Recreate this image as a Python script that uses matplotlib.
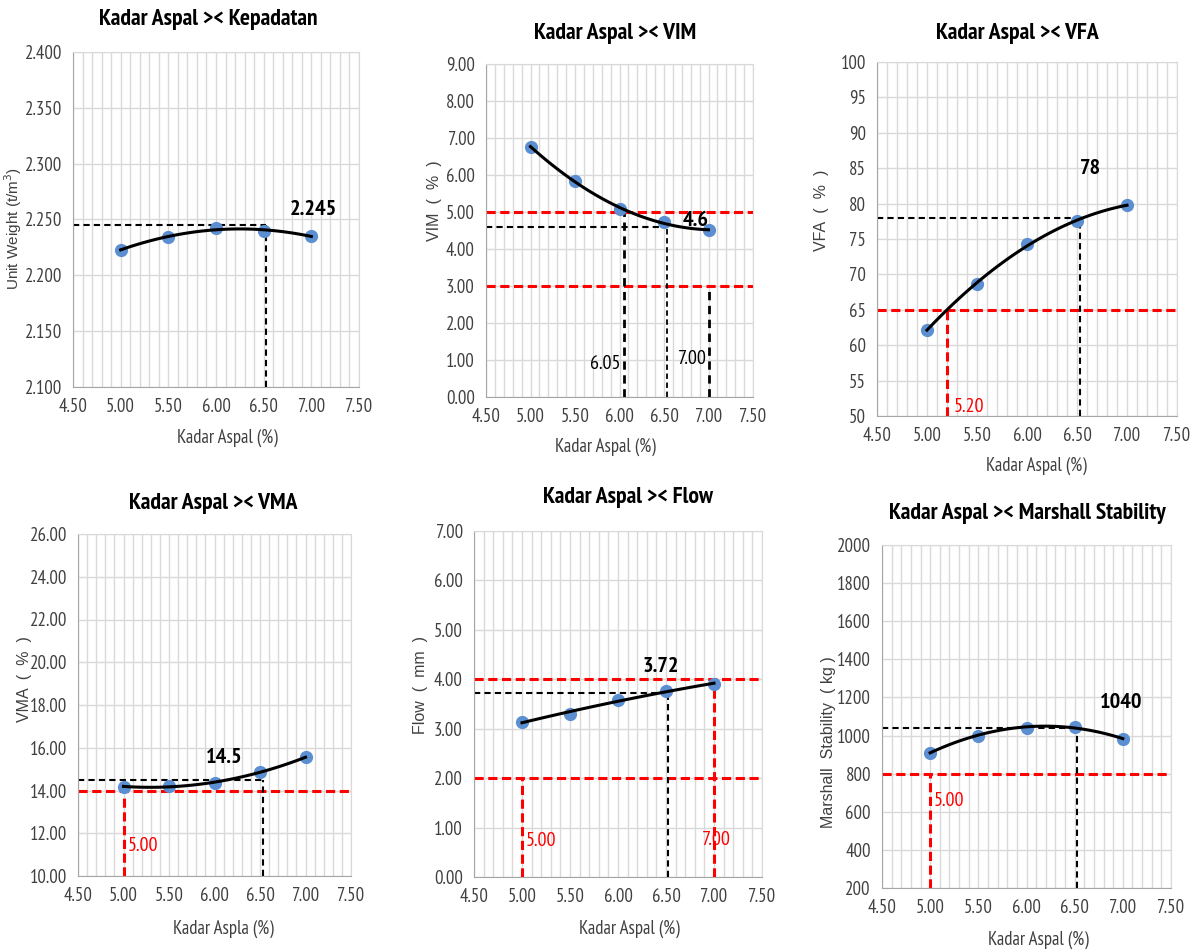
import numpy as np
import matplotlib
matplotlib.use('Agg')
import matplotlib.pyplot as plt
from matplotlib import font_manager
from matplotlib.ticker import MultipleLocator, FormatStrFormatter

# data marshall test
kadar = [5.0, 5.5, 6.0, 6.5, 7.0]
kepadatan = [2.223, 2.234, 2.242, 2.240, 2.235]
vim = [6.76, 5.85, 5.07, 4.73, 4.51]
vfa = [62.2, 68.6, 74.3, 77.5, 79.8]
vma = [14.18, 14.21, 14.34, 14.88, 15.55]
flow = [3.14, 3.30, 3.58, 3.76, 3.91]
stabilitas = [911, 1000, 1042, 1047, 981]

x_ticks = [4.5, 5.0, 5.5, 6.0, 6.5, 7.0, 7.5]


# cari font sempit (mirip Arial Narrow) yang punya regular + bold statis
def pick_narrow():
    cands = ['Arial Narrow', 'Liberation Sans Narrow', 'PT Sans Narrow',
             'Archivo Narrow', 'Roboto Condensed', 'Open Sans Condensed',
             'IBM Plex Sans Condensed', 'Encode Sans Condensed', 'Asap Condensed',
             'Fira Sans Condensed', 'Barlow Semi Condensed', 'Saira Semi Condensed']
    fl = font_manager.fontManager.ttflist
    for c in cands:
        ws = {f.weight for f in fl if f.name == c and f.style == 'normal'
              and '[' not in f.fname}
        if 400 in ws and 700 in ws:
            return c
    return 'Liberation Sans'


narrow = pick_narrow()
regular = 'Liberation Sans'

W, H = 1203, 951


def fx(x):
    return x / W


def fy(y):
    return 1 - y / H


def make_ax(fig, l, r, t, b, ymin, ymax, ystep, yfmt):
    ax = fig.add_axes([fx(l), fy(b), (r - l) / W, (b - t) / H])
    ax.set_xlim(4.5, 7.5)
    ax.set_ylim(ymin, ymax)
    ax.set_xticks(x_ticks)
    ax.xaxis.set_minor_locator(MultipleLocator(0.1))
    ax.yaxis.set_major_locator(MultipleLocator(ystep))
    ax.xaxis.set_major_formatter(FormatStrFormatter('%.2f'))
    ax.yaxis.set_major_formatter(FormatStrFormatter(yfmt))
    ax.grid(True, which='both', axis='x', color='#d9d9d9', lw=1)
    ax.grid(True, which='major', axis='y', color='#d9d9d9', lw=1)
    ax.set_axisbelow(True)
    ax.tick_params(which='both', length=0, pad=8, labelsize=13.5, labelcolor='#404040')
    for lab in ax.get_xticklabels() + ax.get_yticklabels():
        lab.set_fontfamily(narrow)
    for s in ['top', 'right']:
        ax.spines[s].set_color('#d9d9d9')
    for s in ['left', 'bottom']:
        ax.spines[s].set_color('#a6a6a6')
    return ax


def draw_data(ax, y):
    coef = np.polyfit(kadar, y, 2)
    xs = np.linspace(5.0, 7.0, 100)
    ax.plot(kadar, y, 'o', color='#5b8fd2', ms=8.5, zorder=3)
    ax.plot(xs, np.polyval(coef, xs), color='black', lw=2.2, zorder=4)


def black_h(ax, y, x1):
    ax.plot([4.5, x1], [y, y], color='black', lw=1.5, ls=(0, (3, 2)), zorder=2)


def black_v(ax, x, y1, y0, lw=1.5):
    ax.plot([x, x], [y0, y1], color='black', lw=lw, ls=(0, (3, 2)), zorder=2)


def red_h(ax, y):
    ax.axhline(y, color='red', lw=2.2, ls=(0, (3, 1.5)), zorder=2)


def red_v(ax, x, y1, y0):
    ax.plot([x, x], [y0, y1], color='red', lw=2.2, ls=(0, (3, 1.5)), zorder=2)


def titles(fig, t, tx, ty, yl, ylx, yly, xl, xlx, xly, ylsize=11.5):
    fig.text(fx(tx), fy(ty), t, ha='center', va='center', fontsize=17,
             fontweight='bold', family=narrow)
    fig.text(fx(ylx), fy(yly), yl, ha='center', va='center', rotation=90,
             fontsize=ylsize, family=regular, color='#404040')
    fig.text(fx(xlx), fy(xly), xl, ha='center', va='center', fontsize=13.5,
             family=narrow, color='#404040')


def note(ax, x, y, s, ha='center', bold=False, color='black'):
    ax.text(x, y, s, ha=ha, va='center', fontsize=16 if bold else 14.5,
            fontweight='bold' if bold else 'normal', color=color, family=narrow,
            zorder=5)


fig = plt.figure(figsize=(W / 100, H / 100), dpi=100)

# 1. Kepadatan
ax1 = make_ax(fig, 73, 359, 52, 387, 2.1, 2.4, 0.05, '%.3f')
black_h(ax1, 2.245, 6.52)
black_v(ax1, 6.52, 2.245, 2.1)
draw_data(ax1, kepadatan)
note(ax1, 7.02, 2.259, '2.245', bold=True)
titles(fig, 'Kadar Aspal >< Kepadatan', 208, 20, 'Unit Weight (t/m$^3$)', 13, 229,
       'Kadar Aspal (%)', 227, 438, ylsize=11)

# 2. VIM
ax2 = make_ax(fig, 486, 753, 64, 397, 0, 9, 1, '%.2f')
red_h(ax2, 5.0)
red_h(ax2, 3.0)
black_h(ax2, 4.6, 6.5)
black_v(ax2, 6.05, 5.0, 0, lw=2)
black_v(ax2, 6.53, 4.6, 0, lw=1.3)
black_v(ax2, 7.0, 3.0, 0, lw=2)
draw_data(ax2, vim)
note(ax2, 6.01, 0.9, '6.05', ha='right')
note(ax2, 6.82, 1.04, '7.00')
note(ax2, 6.85, 4.77, '4.6', bold=True)
titles(fig, 'Kadar Aspal >< VIM', 615, 34, 'VIM  (  %  )', 435, 201,
       'Kadar Aspal (%)', 605, 447)

# 3. VFA
ax3 = make_ax(fig, 877, 1177, 62, 416, 50, 100, 5, '%d')
red_h(ax3, 65)
red_v(ax3, 5.2, 65, 50)
black_h(ax3, 78, 6.53)
black_v(ax3, 6.53, 78, 50)
draw_data(ax3, vfa)
note(ax3, 5.27, 51.3, '5.20', ha='left', color='red')
note(ax3, 6.63, 84.9, '78', bold=True)
titles(fig, 'Kadar Aspal >< VFA', 1017, 34, 'VFA  (  %  )', 821, 210,
       'Kadar Aspal (%)', 1036, 466)

# 4. VMA
ax4 = make_ax(fig, 78, 351, 534, 876, 10, 26, 2, '%.2f')
red_h(ax4, 14.0)
red_v(ax4, 5.0, 14.0, 10)
black_h(ax4, 14.5, 6.53)
black_v(ax4, 6.53, 14.5, 10)
draw_data(ax4, vma)
note(ax4, 5.05, 11.4, '5.00', ha='left', color='red')
note(ax4, 6.11, 15.55, '14.5', bold=True)
titles(fig, 'Kadar Aspal >< VMA', 213, 503, 'VMA  (  %  )', 25, 679,
       'Kadar Aspla (%)', 223, 929)

# 5. Flow
ax5 = make_ax(fig, 474, 762, 531, 877, 0, 7, 1, '%.2f')
red_h(ax5, 4.0)
red_h(ax5, 2.0)
red_v(ax5, 5.0, 2.0, 0)
red_v(ax5, 7.0, 3.91, 0)
black_h(ax5, 3.72, 6.52)
black_v(ax5, 6.52, 3.72, 0)
draw_data(ax5, flow)
note(ax5, 5.04, 0.72, '5.00', ha='left', color='red')
note(ax5, 6.87, 0.75, '7.00', ha='left', color='red')
note(ax5, 6.45, 4.26, '3.72', bold=True)
titles(fig, 'Kadar Aspal >< Flow', 628, 498, 'Flow  (  mm  )', 420, 685,
       'Kadar Aspal (%)', 629, 929)

# 6. Marshall Stability
ax6 = make_ax(fig, 882, 1171, 545, 888, 200, 2000, 200, '%d')
red_h(ax6, 800)
red_v(ax6, 5.0, 800, 200)
black_h(ax6, 1040, 6.52)
black_v(ax6, 6.52, 1040, 200)
draw_data(ax6, stabilitas)
note(ax6, 5.04, 657, '5.00', ha='left', color='red')
note(ax6, 6.98, 1175, '1040', bold=True)
titles(fig, 'Kadar Aspal >< Marshall Stability', 1027, 513,
       'Marshall  Stability  ( kg )', 828, 742, 'Kadar Aspal (%)', 1038, 940)

fig.savefig('out.png', dpi=100)
